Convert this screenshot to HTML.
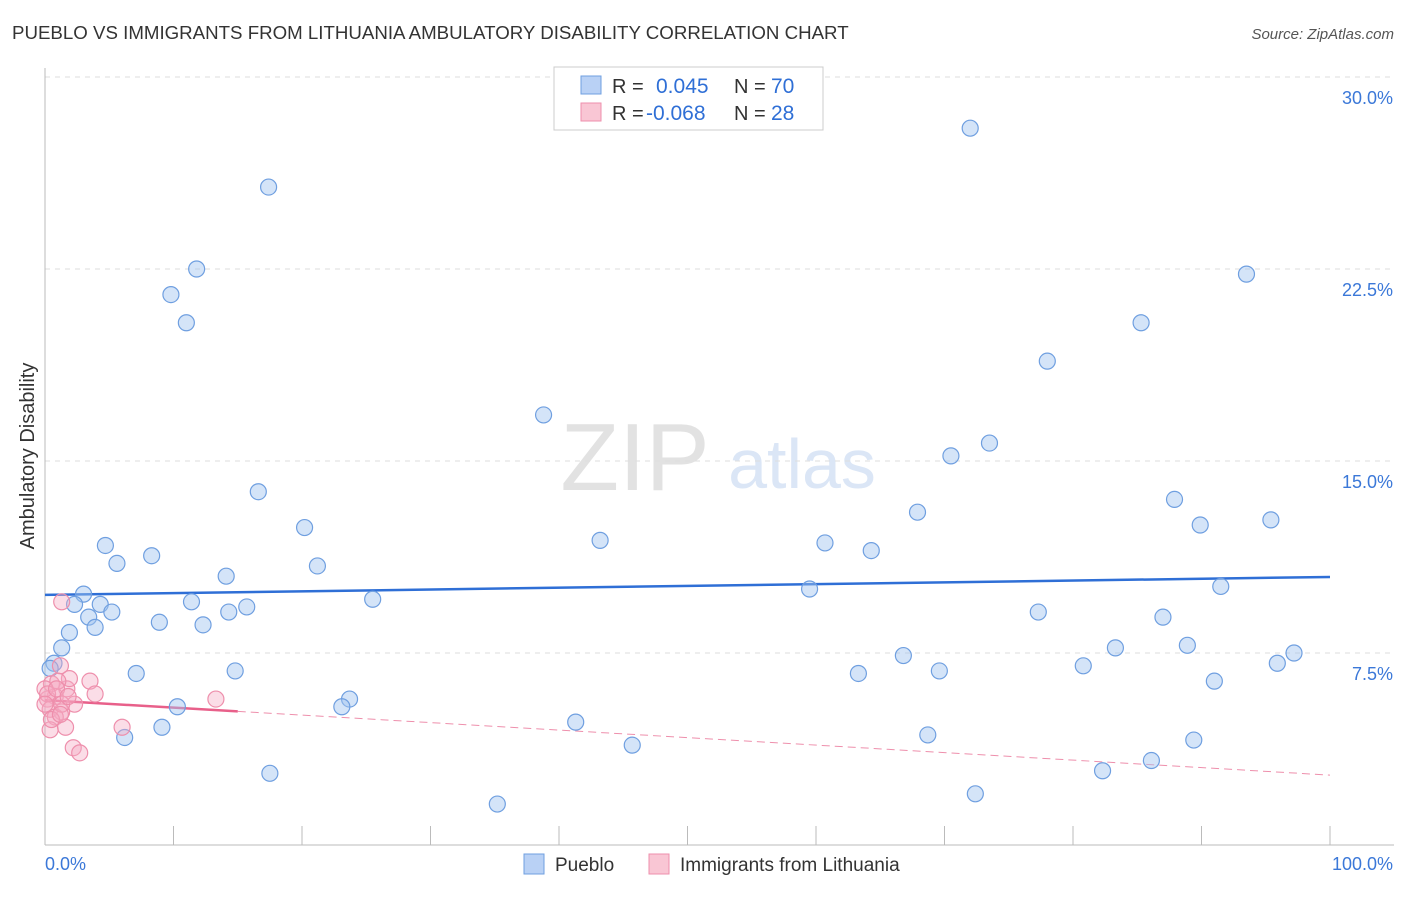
<!DOCTYPE html>
<html><head><meta charset="utf-8"><style>
body{margin:0;background:#fff;font-family:"Liberation Sans",sans-serif;}
svg text{font-family:"Liberation Sans",sans-serif;}
</style></head><body>
<svg id="chart" width="1406" height="892" xmlns="http://www.w3.org/2000/svg">
<text x="12" y="39" font-size="18.7" fill="#333">PUEBLO VS IMMIGRANTS FROM LITHUANIA AMBULATORY DISABILITY CORRELATION CHART</text>
<text x="1394" y="39" font-size="15" fill="#555" font-style="italic" text-anchor="end">Source: ZipAtlas.com</text>
<text x="34" y="456" font-size="20" fill="#333" text-anchor="middle" transform="rotate(-90 34 456)">Ambulatory Disability</text>
<g><text x="635" y="490" font-size="96" fill="#e2e2e2" font-family="Liberation Serif" text-anchor="middle">ZIP</text><text x="802" y="488" font-size="70" fill="#dbe6f6" text-anchor="middle">atlas</text></g>
<g id="grid"></g><g id="axes"></g><g id="lines"></g><g id="pts"></g>
<g>
<rect x="554" y="67" width="269" height="63" fill="#fff" stroke="#ccc"/>
<rect x="581" y="76" width="20" height="18" fill="#b9d1f5" stroke="#6f9fe0"/>
<rect x="581" y="103" width="20" height="18" fill="#f9c6d4" stroke="#ee8fac"/>
<text x="612" y="93" font-size="20" fill="#333">R = </text><text x="656" y="93" font-size="21" fill="#2f6fd6">0.045</text>
<text x="734" y="93" font-size="20" fill="#333">N = </text><text x="771" y="93" font-size="21" fill="#2f6fd6">70</text>
<text x="612" y="120" font-size="20" fill="#333">R = </text><text x="646" y="120" font-size="21" fill="#2f6fd6">-0.068</text>
<text x="734" y="120" font-size="20" fill="#333">N = </text><text x="771" y="120" font-size="21" fill="#2f6fd6">28</text>
</g>
<g>
<rect x="524" y="854" width="20" height="20" fill="#b9d1f5" stroke="#6f9fe0"/><text x="555" y="871" font-size="19" fill="#333">Pueblo</text>
<rect x="649" y="854" width="20" height="20" fill="#f9c6d4" stroke="#ee8fac"/><text x="680" y="871" font-size="19" fill="#333">Immigrants from Lithuania</text>
</g>
</svg>
<script>
const yTicks=[7.5,15,22.5,30];
const yTickLabels=["7.5%","15.0%","22.5%","30.0%"];
const xTickVals=[0,10,20,30,40,50,60,70,80,90,100];
const blueX=[72.0,17.4,11.8,9.8,11.0,93.5,85.3,78.0,38.8,73.5,70.5,16.6,87.9,67.9,95.4,89.9,20.2,43.2,60.7,64.3,4.7,8.3,5.6,21.2,14.1,3.0,59.5,91.5,11.4,25.5,2.3,4.3,5.2,15.7,14.3,3.4,8.9,12.3,3.9,77.3,87.0,1.9,1.3,83.3,88.9,0.7,66.8,97.2,80.8,95.9,7.1,14.8,63.3,69.6,91.0,23.7,23.1,10.3,41.3,9.1,6.2,68.7,89.4,45.7,86.1,82.3,17.5,72.4,35.2,0.4];
const blueY=[28.0,25.7,22.5,21.5,20.4,22.3,20.4,18.9,16.8,15.7,15.2,13.8,13.5,13.0,12.7,12.5,12.4,11.9,11.8,11.5,11.7,11.3,11.0,10.9,10.5,9.8,10.0,10.1,9.5,9.6,9.4,9.4,9.1,9.3,9.1,8.9,8.7,8.6,8.5,9.1,8.9,8.3,7.7,7.7,7.8,7.1,7.4,7.5,7.0,7.1,6.7,6.8,6.7,6.8,6.4,5.7,5.4,5.4,4.8,4.6,4.2,4.3,4.1,3.9,3.3,2.9,2.8,2.0,1.6,6.9];
const pinkX=[1.3,1.2,0.5,1.7,1.9,3.5,3.9,0.8,2.3,0.2,0.4,1.3,0.8,1.6,0.4,6.0,2.2,2.7,13.3,1.0,0,1.3,0.2,0.9,1.8,0.5,1.2,0];
const pinkY=[9.5,7.0,6.3,6.1,6.5,6.4,5.9,5.8,5.5,5.7,5.3,5.2,5.0,4.6,4.5,4.6,3.8,3.6,5.7,6.4,6.1,5.5,5.9,6.1,5.8,4.9,5.1,5.5];
const blueTrend=[9.77,10.47];
const pinkTrend=[5.66,2.73];
const pinkSolidEnd=15;
const NS="http://www.w3.org/2000/svg";
const X=v=>45+v*12.85, Y=v=>845-v*25.6;
function mk(t,a,p){const e=document.createElementNS(NS,t);for(const k in a)e.setAttribute(k,a[k]);document.getElementById(p).appendChild(e);return e;}
yTicks.forEach((t,i)=>{
 const g=mk('line',{x1:45,x2:1394,y1:Y(t),y2:Y(t),stroke:'#ddd','stroke-dasharray':'5,5'},'grid');
 
 
 const l=mk('text',{x:1393,y:Y(t)+27,'font-size':18,fill:'#3b78d8','text-anchor':'end'},'grid');l.textContent=yTickLabels[i];
 
 
});
const ax=mk('line',{x1:45,x2:45,y1:68,y2:845,stroke:'#bbb'},'axes');


const bx=mk('line',{x1:45,x2:1394,y1:845,y2:845,stroke:'#bbb'},'axes');


xTickVals.forEach(t=>{const e=mk('line',{x1:X(t),x2:X(t),y1:826,y2:845,stroke:'#bbb'},'axes');
 
 });
const l0=mk('text',{x:45,y:870,'font-size':18,fill:'#3b78d8'},'axes');l0.textContent='0.0%';


const l1=mk('text',{x:1393,y:870,'font-size':18,fill:'#3b78d8','text-anchor':'end'},'axes');l1.textContent='100.0%';


blueX.forEach((x,i)=>{const c=mk('circle',{cx:X(x),cy:Y(blueY[i]),r:8,fill:'rgba(160,195,240,0.45)',stroke:'#6f9fe0','stroke-width':1.2},'pts');
 
 });
pinkX.forEach((x,i)=>{const c=mk('circle',{cx:X(x),cy:Y(pinkY[i]),r:8,fill:'rgba(245,170,195,0.4)',stroke:'#ee8fac','stroke-width':1.2},'pts');
 
 });
const pt=v=>pinkTrend[0]+(pinkTrend[1]-pinkTrend[0])*v/100;
const bl=mk('line',{x1:X(0),y1:Y(blueTrend[0]),x2:X(100),y2:Y(blueTrend[1]),stroke:'#2f6fd6','stroke-width':2.5},'lines');


const pd=mk('line',{x1:X(pinkSolidEnd),y1:Y(pt(pinkSolidEnd)),x2:X(100),y2:Y(pt(100)),stroke:'#ee8fac','stroke-width':1,'stroke-dasharray':'8,5'},'lines');


const ps=mk('line',{x1:X(0),y1:Y(pt(0)),x2:X(pinkSolidEnd),y2:Y(pt(pinkSolidEnd)),stroke:'#e8608a','stroke-width':2.5},'lines');


</script>
</body></html>
